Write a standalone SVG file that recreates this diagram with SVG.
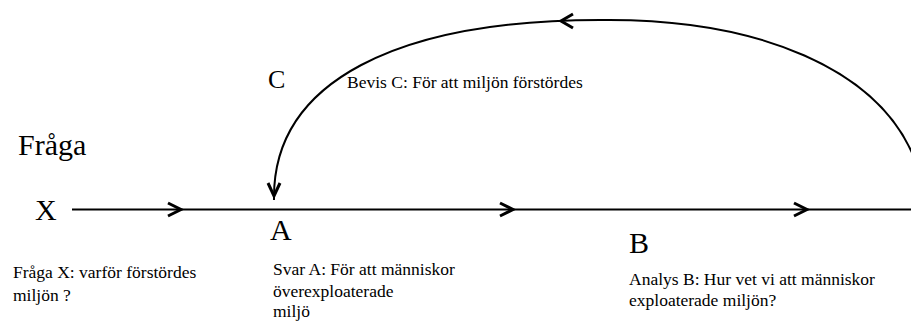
<svg xmlns="http://www.w3.org/2000/svg" width="911" height="322" viewBox="0 0 911 322">
<style>
  .big { font-family: "Liberation Serif", "Times New Roman", serif; font-size: 30px; fill: #000; }
  .small { font-family: "Liberation Serif", "Times New Roman", serif; font-size: 17.5px; fill: #000; }
  .line { fill: none; stroke: #000; stroke-width: 2; }
  .head { fill: none; stroke: #000; stroke-width: 3; stroke-linejoin: miter; stroke-linecap: butt; }
</style>
<rect width="911" height="322" fill="#fff"/>
<g id="connectors">
  <line class="line" x1="72" y1="209.5" x2="911" y2="209.5"/>
  <polyline class="head" points="168,203 181,209.5 168,216"/>
  <polyline class="head" points="500,203 513,209.5 500,216"/>
  <polyline class="head" points="794,203 807,209.5 794,216"/>
  <path class="line" d="M 274,200 C 272,80 400,20 600,20 C 760,18 880,70 915,160"/>
  <polyline class="head" points="573,14 561,21 573,28"/>
  <polyline class="head" points="268,183 274,196 280,183"/>
</g>
<g id="title-fraga"><text class="big" x="18" y="155">Fråga</text></g>
<g id="node-X"><text class="big" x="35" y="220">X</text>
  <text class="small" x="13" y="278">Fråga X: varför förstördes</text>
  <text class="small" x="13" y="301">miljön ?</text></g>
<g id="node-A"><text class="big" x="270" y="240">A</text>
  <text class="small" x="273" y="275">Svar A: För att människor</text>
  <text class="small" x="273" y="297">överexploaterade</text>
  <text class="small" x="273" y="317">miljö</text></g>
<g id="node-B"><text class="big" x="629" y="253">B</text>
  <text class="small" x="629" y="285">Analys B: Hur vet vi att människor</text>
  <text class="small" x="629" y="306">exploaterade miljön?</text></g>
<g id="node-C"><text class="big" x="268" y="88" style="font-size:26px">C</text>
  <text class="small" x="347" y="88">Bevis C: För att miljön förstördes</text></g>
</svg>
